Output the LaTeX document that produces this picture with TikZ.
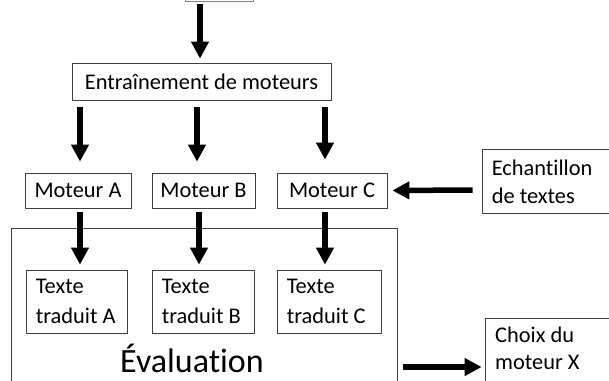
\documentclass[tikz,border=0pt]{standalone}
\usepackage{fontspec}
\setmainfont{Carlito}[Ligatures={NoCommon}]
\usetikzlibrary{arrows.meta}
\tikzset{
  box/.style={draw=black!75, line width=0.8pt, rectangle, inner sep=0pt, font=\fontsize{22.4}{28}\selectfont},
  txt/.style={inner sep=0pt, align=left, anchor=west, font=\fontsize{22.4}{#1}\selectfont},
  arr/.style={line width=5.5pt, -{Triangle[width=17pt,length=17pt]}},
}
\begin{document}
\begin{tikzpicture}[x=1pt,y=-1pt]
\useasboundingbox (0,0) rectangle (609,380);
\clip (0,0) rectangle (609,380);
% partial box at top (cut off)
\node[box, draw=black!50, minimum width=68pt, minimum height=42pt] (top) at (219,-20) {};
\node[box, minimum width=259pt, minimum height=37pt] (train) at (201.5,81.5) {Entraînement de moteurs};
\node[box, minimum width=106pt, minimum height=35pt] (mA) at (78,190.5) {Moteur A};
\node[box, minimum width=103pt, minimum height=35pt] (mB) at (203.5,190.5) {Moteur B};
\node[box, minimum width=110pt, minimum height=35pt] (mC) at (332,190.5) {Moteur C};
\node[box, minimum width=386pt, minimum height=192pt] (eval) at (204,324) {};
\node[font=\fontsize{34}{40}\selectfont, anchor=base, inner sep=0pt] (evaltxt) at (192,372) {Évaluation};
\node[box, minimum width=101pt, minimum height=63pt] (tA) at (76.5,301.5) {};
\node[box, minimum width=102pt, minimum height=63pt] (tB) at (203,301.5) {};
\node[box, minimum width=104pt, minimum height=63pt] (tC) at (329,301.5) {};
\node[txt=30] (tAt) at ([xshift=10pt]tA.west) {Texte\\traduit A};
\node[txt=30] (tBt) at ([xshift=10pt]tB.west) {Texte\\traduit B};
\node[txt=30] (tCt) at ([xshift=10pt]tC.west) {Texte\\traduit C};
\node[box, minimum width=138pt, minimum height=64pt] (ech) at (551,181) {};
\node[txt=28] (echt) at ([xshift=10pt,yshift=-1pt]ech.west) {Echantillon\\de textes};
\node[box, minimum width=155pt, minimum height=102pt] (choix) at (562.5,369) {};
\node[txt=27, anchor=north west] (choixt) at (495,327) {Choix du\\moteur X};
% arrows
\draw[arr] ([xshift=-19pt,yshift=-3pt]top.south) -- ([xshift=-1.5pt,yshift=4pt]train.north);
\draw[arr] ([xshift=-121.5pt,yshift=-7pt]train.south) -- ([xshift=2pt,yshift=11pt]mA.north);
\draw[arr] ([xshift=-4.5pt,yshift=-7pt]train.south) -- ([xshift=-6.5pt,yshift=11pt]mB.north);
\draw[arr] ([xshift=123.5pt,yshift=-7pt]train.south) -- ([xshift=-7pt,yshift=13pt]mC.north);
\draw[arr] ([xshift=2pt,yshift=-4pt]mA.south) -- ([xshift=3.5pt,yshift=5pt]tA.north);
\draw[arr] ([xshift=-4.5pt,yshift=-4pt]mB.south) -- ([xshift=-4pt,yshift=5pt]tB.north);
\draw[arr] ([xshift=-7pt,yshift=-4pt]mC.south) -- ([xshift=-4pt,yshift=5pt]tC.north);
\draw[arr] ([xshift=-9pt,yshift=-9pt]ech.west) -- ([xshift=5pt]mC.east);
\draw[arr] ([xshift=6pt,yshift=-43pt]eval.east) -- ([xshift=-3pt,yshift=2pt]choix.west);
\end{tikzpicture}
\end{document}
